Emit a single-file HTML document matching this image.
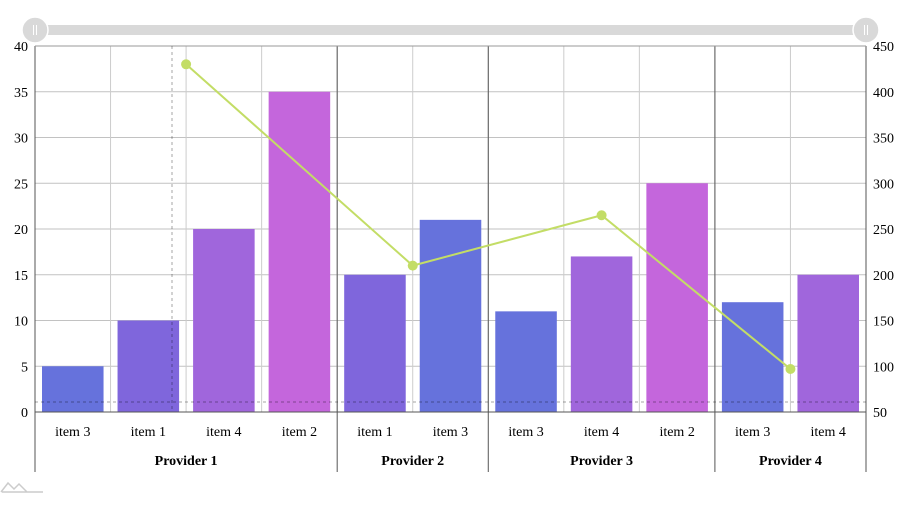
<!DOCTYPE html>
<html><head><meta charset="utf-8"><style>
html,body{margin:0;padding:0;background:#fff;}
svg{display:block;font-family:"Liberation Serif",serif;}
</style></head><body>
<svg id="c" width="922" height="511"></svg>
<script>
const categories=["item 3","item 1","item 4","item 2","item 1","item 3","item 3","item 4","item 2","item 3","item 4"];
const barValues=[5,10,20,35,15,21,11,17,25,12,15];
const barColors=["#6672dc","#7f66dc","#a066dc","#c466dc","#7f66dc","#6672dc","#6672dc","#a066dc","#c466dc","#6672dc","#a066dc"];
const providers=["Provider 1","Provider 2","Provider 3","Provider 4"];
const providerCounts=[4,2,3,2];
const lineValues=[430,210,265,97];
const leftTicks=[0,5,10,15,20,25,30,35,40];
const rightTicks=[50,100,150,200,250,300,350,400,450];

const NS="http://www.w3.org/2000/svg";
const svg=document.getElementById('c');
const L=35,R=866,T=46,B=412;
const cw=(R-L)/categories.length;
const yL=v=>B-(v/40)*(B-T);
const yR=v=>B-((v-50)/400)*(B-T);
const xC=i=>L+cw*i;
function mk(tag,a,p){const e=document.createElementNS(NS,tag);for(const k in a)e.setAttribute(k,a[k]);(p||svg).appendChild(e);return e;}

// scrollbar
const sb=mk('rect',{x:L,y:25,width:R-L,height:10,fill:'#d9d9d9'});


[L,R].forEach((x,k)=>{const g=mk('circle',{cx:x,cy:30,r:13,fill:'#d9d9d9',stroke:'#fff','stroke-width':1.5});


mk('line',{x1:x-1.5,y1:25,x2:x-1.5,y2:35,stroke:'#fff'});mk('line',{x1:x+1.5,y1:25,x2:x+1.5,y2:35,stroke:'#fff'});});

// grid
leftTicks.forEach((v,i)=>{const y=yL(v);
const g=mk('line',{x1:L,y1:y,x2:R,y2:y,stroke:'#999','stroke-width':1,'stroke-opacity':0.6});


const t=mk('text',{x:L-7,y:y+5,'text-anchor':'end','font-size':14,fill:'#000'});t.textContent=v;


const t2=mk('text',{x:R+7,y:yR(rightTicks[i])+5,'font-size':14,fill:'#000'});t2.textContent=rightTicks[i];

});
for(let i=1;i<categories.length;i++){const g=mk('line',{x1:xC(i),y1:T,x2:xC(i),y2:B,stroke:'#ccc'});

}

// bars
categories.forEach((c,i)=>{const y=yL(barValues[i]);
const b=mk('rect',{x:xC(i)+7,y:y,width:cw-14,height:B-y,fill:barColors[i]});


const t=mk('text',{x:xC(i)+cw/2,y:B+24,'text-anchor':'middle','font-size':14});t.textContent=c;

});

// provider separators and labels
let idx=0;
const sep0=mk('line',{x1:L,y1:T,x2:L,y2:472,stroke:'#555'});
providers.forEach((p,k)=>{const x0=xC(idx);idx+=providerCounts[k];const x1=xC(idx);
const s=mk('line',{x1:x1,y1:k==providers.length-1?T:T,x2:x1,y2:472,stroke:'#555'});


const t=mk('text',{x:(x0+x1)/2,y:465,'text-anchor':'middle','font-size':14,'font-weight':'bold'});t.textContent=p;

});
mk('line',{x1:L,y1:B,x2:R,y2:B,stroke:'#555'});
mk('line',{x1:L,y1:T,x2:R,y2:T,stroke:'#999'});

// line series
idx=0;const pts=[];
providers.forEach((p,k)=>{const x0=xC(idx);idx+=providerCounts[k];const x1=xC(idx);pts.push([(x0+x1)/2,yR(lineValues[k])]);});
const pl=mk('polyline',{points:pts.map(p=>p.join(',')).join(' '),fill:'none',stroke:'#c3dd66','stroke-width':2});


pts.forEach(p=>{const c=mk('circle',{cx:p[0],cy:p[1],r:5,fill:'#c3dd66'});

});

// cursor
mk('line',{x1:172,y1:T,x2:172,y2:B,stroke:'#000','stroke-opacity':0.35,'stroke-dasharray':'3,3'});
mk('line',{x1:L,y1:402,x2:R,y2:402,stroke:'#000','stroke-opacity':0.35,'stroke-dasharray':'3,3'});

// logo
mk('path',{d:'M1 492 L8 483 L14 489 L19 484 L27 492 M2 492 L43 492',fill:'none',stroke:'#ccc','stroke-width':1.5});
</script>
</body></html>
